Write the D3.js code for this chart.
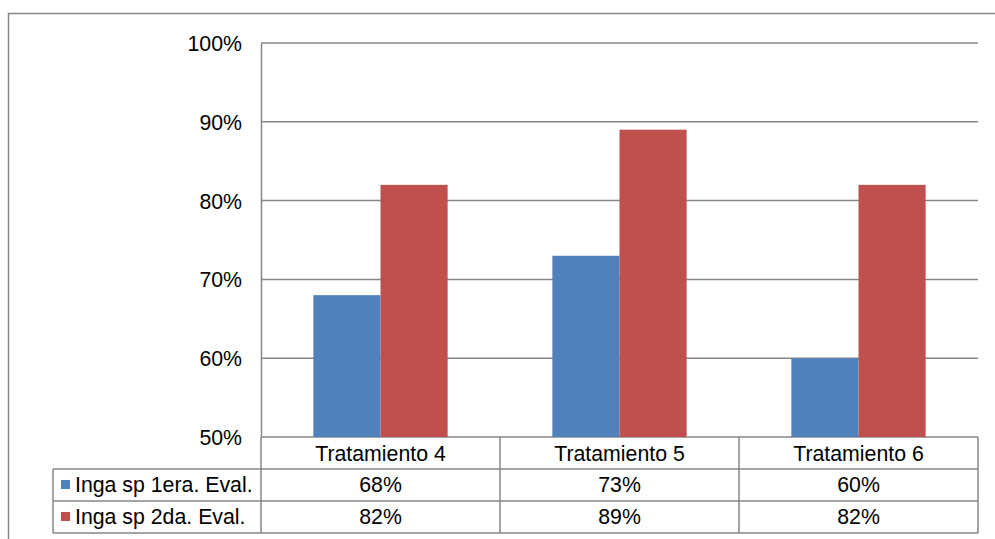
<!DOCTYPE html>
<html>
<head>
<meta charset="utf-8">
<script src="https://cdn.jsdelivr.net/npm/d3@7"></script>
<style>
  body { margin: 0; background: #fff; }
  svg text { font-family: "Liberation Sans", Arial, sans-serif; fill: #000; }
</style>
</head>
<body>
<div id="chart"></div>
<script>
// Data____________________________________________________
const categories = ["Tratamiento 4", "Tratamiento 5", "Tratamiento 6"];
const seriesNames = ["Inga sp 1era. Eval.", "Inga sp 2da. Eval."];
const eval1 = [68, 73, 60];
const eval2 = [82, 89, 82];
const yTicks = [50, 60, 70, 80, 90, 100];
const colors = ["#4F81BD", "#C0504D"];

const series = [eval1, eval2];

// Layout__________________________________________________
const width = 995, height = 539;
const plotLeft = 261, plotRight = 978, plotTop = 43, plotBottom = 437;
const tableLeft = 53, rowH = 32;
const gridColor = "#868686";
const fontSize = "21.3px";

const svg = d3.select("#chart")
    .append("svg")
    .attr("width", width)
    .attr("height", height);

// outer frame
svg.append("rect")
    .attr("x", 8.5).attr("y", 13.5)
    .attr("width", 1000).attr("height", 600)
    .attr("fill", "none")
    .attr("stroke", gridColor)
    .attr("stroke-width", 1.5);

const xScale = d3.scaleBand()
    .domain(categories)
    .range([plotLeft, plotRight]);

const barScale = d3.scaleBand()
    .domain([0, 1])
    .range([0, xScale.bandwidth()])
    .paddingOuter(0.78)
    .paddingInner(0);

const yScale = d3.scaleLinear()
    .domain([50, 100])
    .range([plotBottom, plotTop]);

// gridlines
svg.append("g")
    .selectAll("line")
    .data(yTicks)
    .enter()
    .append("line")
    .attr("x1", plotLeft).attr("x2", plotRight)
    .attr("y1", d => yScale(d)).attr("y2", d => yScale(d))
    .attr("stroke", gridColor)
    .attr("stroke-width", 1.5);

// y axis
const yAxis = d3.axisLeft(yScale)
    .tickValues(yTicks)
    .tickSize(0)
    .tickPadding(19)
    .tickFormat(d => d + "%");

const yG = svg.append("g")
    .attr("transform", `translate(${plotLeft}, 0)`)
    .call(yAxis);
yG.attr("font-size", null).attr("font-family", null);
yG.select(".domain").attr("stroke", gridColor).attr("stroke-width", 1.5);
yG.selectAll("text").style("font-size", fontSize).attr("dy", "0.35em");

// bars
series.forEach((vals, s) => {
    svg.append("g")
        .selectAll("rect")
        .data(vals)
        .enter()
        .append("rect")
        .attr("x", (d, i) => xScale(categories[i]) + barScale(s))
        .attr("width", barScale.bandwidth())
        .attr("y", d => yScale(d))
        .attr("height", d => plotBottom - yScale(d))
        .attr("fill", colors[s]);
});

// data table
const table = svg.append("g");
const tableBottom = plotBottom + rowH * 3;

categories.forEach((c, i) => {
    table.append("text")
        .attr("x", xScale(c) + xScale.bandwidth() / 2)
        .attr("y", plotBottom + rowH / 2 + 1)
        .attr("text-anchor", "middle")
        .attr("dy", "0.35em")
        .style("font-size", fontSize)
        .text(c);
});

series.forEach((vals, s) => {
    const rowY = plotBottom + rowH * (s + 1);
    table.append("rect")
        .attr("x", 61).attr("y", rowY + rowH / 2 - 5)
        .attr("width", 9).attr("height", 9)
        .attr("fill", colors[s]);
    table.append("text")
        .attr("x", 75)
        .attr("y", rowY + rowH / 2)
        .attr("dy", "0.35em")
        .style("font-size", fontSize)
        .text(seriesNames[s]);
    vals.forEach((v, i) => {
        table.append("text")
            .attr("x", xScale(categories[i]) + xScale.bandwidth() / 2)
            .attr("y", rowY + rowH / 2)
            .attr("text-anchor", "middle")
            .attr("dy", "0.35em")
            .style("font-size", fontSize)
            .text(v + "%");
    });
});

// table lines
const hLines = [
    [tableLeft, plotRight, plotBottom + rowH],
    [tableLeft, plotRight, plotBottom + rowH * 2],
    [tableLeft, plotRight, tableBottom]
];
table.selectAll("line.h")
    .data(hLines)
    .enter()
    .append("line")
    .attr("x1", d => d[0]).attr("x2", d => d[1])
    .attr("y1", d => d[2]).attr("y2", d => d[2])
    .attr("stroke", gridColor).attr("stroke-width", 1.5);

const vLines = [
    [tableLeft, plotBottom + rowH, tableBottom],
    [plotLeft, plotBottom, tableBottom],
    [xScale(categories[1]), plotBottom, tableBottom],
    [xScale(categories[2]), plotBottom, tableBottom],
    [plotRight, plotBottom, tableBottom]
];
table.selectAll("line.v")
    .data(vLines)
    .enter()
    .append("line")
    .attr("x1", d => d[0]).attr("x2", d => d[0])
    .attr("y1", d => d[1]).attr("y2", d => d[2])
    .attr("stroke", gridColor).attr("stroke-width", 1.5);
</script>
</body>
</html>
